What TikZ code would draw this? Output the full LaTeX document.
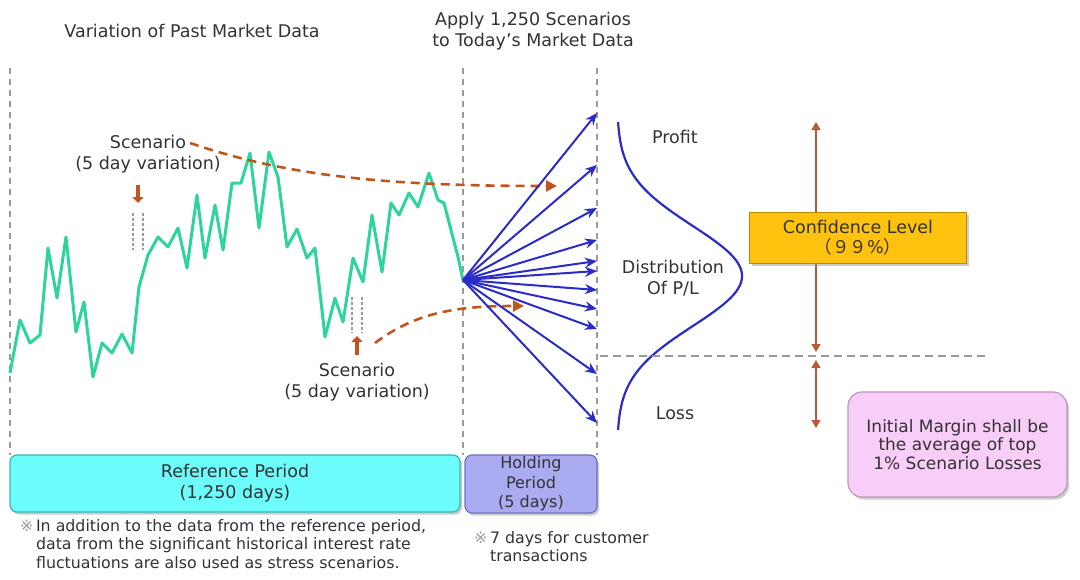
\documentclass[tikz,border=0pt]{standalone}
\usepackage{fontspec}
\setmainfont{DejaVu Sans}
\newfontfamily\cjk{Noto Sans CJK JP}
\usetikzlibrary{arrows.meta,shadows}
\definecolor{txt}{HTML}{333333}
\definecolor{gline}{HTML}{2DD49B}
\definecolor{oline}{HTML}{C0561E}
\definecolor{bline}{HTML}{2B2BC6}
\definecolor{gdashc}{HTML}{9A9A9A}
\definecolor{cyanf}{HTML}{6CFCFC}
\definecolor{cyand}{HTML}{3AB5B5}
\definecolor{holdf}{HTML}{ABABF2}
\definecolor{holdd}{HTML}{6F6FC0}
\definecolor{goldf}{HTML}{FFC20E}
\definecolor{goldd}{HTML}{B88A00}
\definecolor{pinkf}{HTML}{F8CEF8}
\definecolor{pinkd}{HTML}{B99AB9}
\definecolor{darrow}{HTML}{B85A35}
\begin{document}
\begin{tikzpicture}[x=1pt,y=-1pt,
  lbl/.style={inner sep=0pt,text=txt,font=\fontsize{17.5}{21}\selectfont,align=center},
  notetxt/.style={inner sep=0pt,text=txt,font=\fontsize{15.8}{18.5}\selectfont,align=left,anchor=north west},
  gdash/.style={draw=gdashc,line width=1.5pt,dash pattern=on 6pt off 5pt},
  greenline/.style={draw=gline,line width=3pt,line join=round},
  odash/.style={draw=oline,line width=2.6pt,dash pattern=on 9pt off 6pt,-{Triangle[length=11pt,width=11pt]}},
  fanarrow/.style={draw=bline,line width=2pt,-{Stealth[length=12pt,width=10pt]}},
  smallarrow/.style={draw=oline,line width=4pt,-{Triangle[length=6pt,width=11pt]}},
  dotpair/.style={draw=gdashc,line width=1.6pt,dash pattern=on 2.5pt off 2.5pt},
  boxshadow/.style={drop shadow={shadow xshift=2pt,shadow yshift=-2.5pt,fill=black!40}},
]
\useasboundingbox (0,0) rectangle (1080,579);

% titles
\node[lbl] (t1) at (192,31) {Variation of Past Market Data};
\node[lbl] (t2) at (533,31) {Apply 1,250 Scenarios\\to Today’s Market Data};

% vertical dashed guide lines
\coordinate (v1a) at (10,68);  \coordinate (v1b) at (10,455);
\coordinate (v2a) at (463,68); \coordinate (v2b) at (463,455);
\coordinate (v3a) at (597,68); \coordinate (v3b) at (597,455);
\draw[gdash] (v1a) -- (v1b);
\draw[gdash] (v2a) -- (v2b);
\draw[gdash] (v3a) -- (v3b);

% market data line
\draw[greenline] plot coordinates {(10,373) (20,320) (30,343) (40,335) (48,248) (57,298) (66,237) (76,332) (84,302) (93,377) (102,343) (112,353) (122,334) (132,353) (139,287) (148,255) (158,237) (168,247) (178,228) (187,268) (197,195) (205,258) (215,205) (223,250) (232,183) (241,183) (250,153) (259,228) (269,152) (278,177) (287,247) (297,229) (307,258) (315,248) (325,337) (335,298) (343,322) (353,258) (363,282) (372,215) (382,272) (391,203) (399,215) (409,193) (418,207) (429,173) (438,200) (444,203) (458,257) (463,280)};
\coordinate (o) at (463,280);

% scenario markers
\coordinate (da) at (138,185); \coordinate (db) at (138,203);
\draw[smallarrow] (da) -- (db);
\coordinate (d1a) at (133,213); \coordinate (d1b) at (133,250);
\coordinate (d2a) at (143,213); \coordinate (d2b) at (143,250);
\draw[dotpair] (d1a) -- (d1b);
\draw[dotpair] (d2a) -- (d2b);
\coordinate (ua) at (357,355); \coordinate (ub) at (357,336);
\draw[smallarrow] (ua) -- (ub);
\coordinate (u1a) at (352,297); \coordinate (u1b) at (352,333);
\coordinate (u2a) at (362,297); \coordinate (u2b) at (362,333);
\draw[dotpair] (u1a) -- (u1b);
\draw[dotpair] (u2a) -- (u2b);

\node[lbl] (s1) at (148,154) {Scenario\\(5 day variation)};
\node[lbl] (s2) at (357,382) {Scenario\\(5 day variation)};

% scenario dashed arrows
\coordinate (c1s) at (190,143); \coordinate (c1e) at (557,186);
\draw[odash] (c1s) .. controls (290,177) and (390,186) .. (c1e);
\coordinate (c2s) at (375,343); \coordinate (c2e) at (524,306);
\draw[odash] (c2s) .. controls (415,313) and (455,306) .. (c2e);

% fan of scenarios
\foreach \i/\yy in {1/113,2/165,3/208,4/240,5/261,6/271,7/290,8/309,9/329,10/374,11/423}{
  \coordinate (f\i) at (597,\yy);
  \draw[fanarrow] (o) -- (f\i);
}

% distribution curve
\draw[draw=bline,line width=2.2pt] plot[domain=122:430,samples=120,smooth] ({617+125*exp(-((\x-276)/50)^2/2)},\x);
\node[lbl] (profit) at (675,137) {Profit};
\node[lbl] (dist) at (673,278) {Distribution\\Of P/L};
\node[lbl] (loss) at (675,413) {Loss};

% threshold
\coordinate (ha) at (600,356); \coordinate (hb) at (985,356);
\draw[gdash,dash pattern=on 8pt off 5pt] (ha) -- (hb);
\coordinate (ar1) at (816,122); \coordinate (ar2) at (816,352);
\coordinate (ar3) at (816,360); \coordinate (ar4) at (816,428);
\draw[draw=darrow,line width=1.3pt,{Triangle[length=8pt,width=9pt]}-{Triangle[length=8pt,width=9pt]}] (ar1) -- (ar2);
\draw[draw=darrow,line width=1.3pt,{Triangle[length=8pt,width=9pt]}-{Triangle[length=8pt,width=9pt]}] (ar3) -- (ar4);

% confidence box
\node[lbl,boxshadow,fill=goldf,draw=goldd,line width=1pt,minimum width=217pt,minimum height=51pt,text=black!80] (conf) at (858,237.5) {Confidence Level\\[-1pt]{\cjk （９９}\%{\cjk ）}};

% initial margin box
\node[lbl,boxshadow,fill=pinkf,draw=pinkd,line width=1.2pt,rounded corners=14pt,minimum width=219pt,minimum height=105pt,font=\fontsize{17}{18.5}\selectfont] (im) at (957.5,444.5) {Initial Margin shall be\\the average of top\\1\% Scenario Losses};

% period boxes
\node[lbl,boxshadow,fill=cyanf,draw=cyand,line width=1.2pt,rounded corners=7pt,minimum width=450pt,minimum height=57pt] (ref) at (235,483.5) {Reference Period\\(1,250 days)};
\node[lbl,boxshadow,fill=holdf,draw=holdd,line width=1.2pt,rounded corners=7pt,minimum width=132pt,minimum height=58pt,font=\fontsize{16}{19.5}\selectfont] (hold) at (531,484) {Holding\\Period\\(5 days)};

% notes
\node[notetxt] (n1) at (20,519) {{\color{gdashc}※}\,In addition to the data from the reference period,\\\phantom{※\,}data from the significant historical interest rate\\\phantom{※\,}fluctuations are also used as stress scenarios.};
\node[notetxt] (n2) at (474,531) {{\color{gdashc}※}\,7 days for customer\\\phantom{※\,}transactions};
\end{tikzpicture}
\end{document}
